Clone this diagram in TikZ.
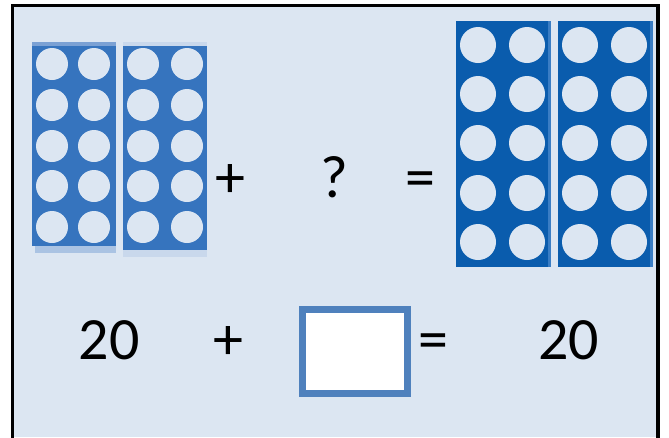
\documentclass[tikz,border=0pt]{standalone}
\usepackage{fontspec}
\setmainfont{Carlito}
\definecolor{bg}{HTML}{DCE6F2}
\definecolor{tenA}{HTML}{3674BE}
\definecolor{tenB}{HTML}{0A5CAD}
\definecolor{boxc}{HTML}{4F81BD}
\definecolor{stripA}{HTML}{7BA1D4}
\definecolor{stripB}{HTML}{AAC3E3}
\definecolor{stripC}{HTML}{C9D8EC}
\definecolor{edgeB}{HTML}{3A7DC4}
\begin{document}
\begin{tikzpicture}[x=1pt,y=-1pt,
  txt/.style={font=\fontsize{60}{72}\selectfont, inner sep=0pt, anchor=base},
  holeA/.style={fill=bg},
]
\useasboundingbox (0,0) rectangle (669,437);
\fill[white] (0,0) rectangle (669,437);
\fill[bg] (12.5,5.5) rectangle (658,437);
\draw[line width=3.5pt] (12.5,440) -- (12.5,5.5) -- (658,5.5) -- (658,440);
% left ten-frames
\fill[stripA] (32,42) rectangle (116,46);
\fill[stripB] (35,246) rectangle (116,253);
\fill[tenA] (32,46) rectangle (116,246);
\fill[stripC] (123,42) rectangle (207,46);
\fill[stripC] (123,250) rectangle (207,257);
\fill[tenA] (123,46) rectangle (207,250);
\foreach \cy in {64,105,146,186,227}{
  \foreach \cx in {52,94,143,187}{
    \fill[holeA] (\cx,\cy) circle[radius=16pt];
  }
}
% right ten-frames
\fill[tenB] (456,21) rectangle (551,267);
\fill[edgeB] (548,21) rectangle (551,267);
\fill[tenB] (558,21) rectangle (653,267);
\fill[edgeB] (650,21) rectangle (653,267);
\foreach \cy in {45,94,143,193,242}{
  \foreach \cx in {478,527,580,629}{
    \fill[holeA] (\cx,\cy) circle[radius=18pt];
  }
}
% top row symbols
\node[txt] (plusA) at (230,197) {+};
\node[txt] (q) at (334,197) {?};
\node[txt] (eqA) at (420,197) {=};
% bottom row
\node[txt] (n1) at (109,359) {20};
\node[txt] (plusB) at (228,359) {+};
\node[draw=boxc, fill=white, line width=7pt, minimum width=105pt, minimum height=84pt, inner sep=0pt] (ans) at (355,351.5) {};
\node[txt] (eqB) at (433.5,359) {=};
\node[txt] (n2) at (568.5,359) {20};
\end{tikzpicture}
\end{document}
